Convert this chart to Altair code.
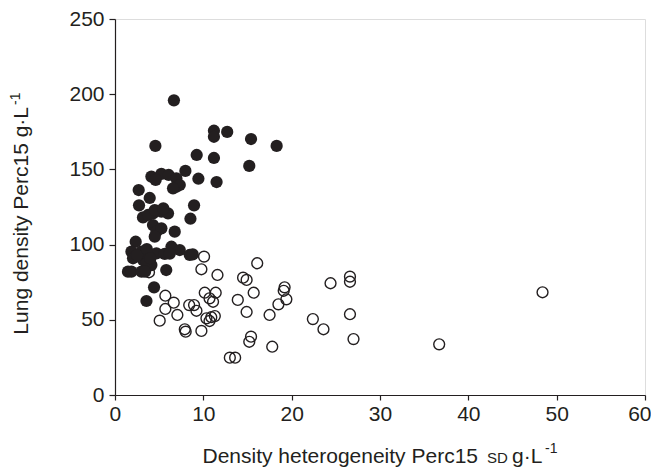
import altair as alt
import pandas as pd

# Filled circles (x: density heterogeneity SD, y: lung density Perc15)
filled_x = [6.67, 11.2, 11.2, 12.7, 15.4, 18.3, 4.57, 9.25, 11.2, 15.2,
            9.44, 11.5, 4.12, 5.25, 6.08, 6.95, 6.95, 7.97, 7.33, 6.57,
            2.68, 3.93, 2.72, 8.95, 8.54, 4.3, 5.25, 6.0, 3.17, 3.74,
            4.5, 5.47, 4.3, 4.69, 5.25, 4.5, 6.76, 2.34, 1.86, 2.99,
            2.04, 3.17, 4.12, 3.56, 4.69, 5.63, 6.39, 7.33, 8.46, 8.8,
            1.47, 1.86, 3.0, 3.4, 5.8, 4.42, 3.56, 2.5, 3.6, 4.0, 6.2, 4.6]
filled_y = [195.9, 175.7, 171.7, 174.9, 170.2, 165.6, 165.6, 159.6, 157.6, 152.3,
            143.8, 141.6, 145.2, 147.0, 146.3, 144.0, 138.5, 149.0, 139.6, 137.4,
            136.3, 131.0, 126.1, 126.1, 117.2, 120.8, 121.9, 120.8, 118.1, 119.7,
            123.0, 124.1, 113.0, 108.6, 110.8, 105.3, 108.6, 101.9, 95.3, 95.3,
            90.9, 89.8, 86.4, 87.5, 94.2, 93.8, 98.6, 96.4, 93.1, 93.5,
            82.0, 82.0, 82.0, 82.0, 83.1, 71.6, 62.5, 93.0, 97.0, 91.0, 94.0, 143.0]

# Open circles
open_x = [3.85, 10.08, 9.78, 11.6, 14.5, 14.9, 16.1, 15.7, 13.9, 14.9,
          19.2, 19.1, 19.4, 18.5, 17.5, 17.8, 15.4, 15.2, 13.0, 13.6,
          22.4, 23.6, 24.4, 26.6, 26.6, 26.6, 27.0, 36.7, 48.4, 5.7,
          6.65, 5.7, 7.06, 5.06, 8.4, 8.95, 9.22, 10.16, 11.4, 10.7,
          11.1, 10.35, 10.9, 11.3, 10.7, 7.9, 8.0, 9.78]
open_y = [81.6, 92.0, 83.6, 79.8, 78.0, 76.5, 87.6, 68.0, 63.2, 55.2,
          71.6, 69.3, 63.6, 60.3, 53.2, 32.1, 38.8, 35.4, 24.8, 24.8,
          50.5, 43.7, 74.3, 78.7, 75.3, 53.7, 37.2, 33.7, 68.3, 66.0,
          61.4, 57.2, 53.2, 49.4, 59.8, 59.8, 56.0, 68.0, 68.0, 64.3,
          62.0, 51.0, 51.7, 52.5, 49.2, 43.7, 42.1, 42.6]

x_ticks = [0, 10, 20, 30, 40, 50, 60]
y_ticks = [0, 50, 100, 150, 200, 250]

INK = "#231f20"
FONT = "Liberation Sans"
W, H = 530, 376

df_f = pd.DataFrame({"x": filled_x, "y": filled_y})
df_o = pd.DataFrame({"x": open_x, "y": open_y})

xs = alt.Scale(domain=[0, 60], nice=False, zero=False)
ys = alt.Scale(domain=[0, 250], nice=False, zero=False)

x_axis = alt.Axis(values=x_ticks, title=None, grid=False, tickSize=5, labelPadding=3,
                  labelFontSize=21, labelFont=FONT, labelColor=INK, domainColor=INK,
                  tickColor=INK, labelFlush=True, labelFlushOffset=6, labelOverlap=False,
                  domainWidth=1.2, tickWidth=1.2)
y_axis = alt.Axis(values=y_ticks, title=None, grid=False, tickSize=6, labelPadding=5,
                  labelFontSize=21, labelFont=FONT, labelColor=INK, domainColor=INK,
                  tickColor=INK, labelFlush=False, labelOverlap=False,
                  domainWidth=1.2, tickWidth=1.2)

open_pts = alt.Chart(df_o).mark_point(shape="circle", filled=False, size=118,
                                      stroke=INK, strokeWidth=1.4, opacity=1).encode(
    x=alt.X("x:Q", scale=xs, axis=x_axis),
    y=alt.Y("y:Q", scale=ys, axis=y_axis),
)
filled_pts = alt.Chart(df_f).mark_circle(size=150, color=INK, opacity=1).encode(
    x=alt.X("x:Q", scale=xs),
    y=alt.Y("y:Q", scale=ys),
)


def txt(text, x, y, size, align="left", angle=0):
    return alt.Chart(pd.DataFrame({"t": [text]})).mark_text(
        align=align, baseline="alphabetic", angle=angle, fontSize=size,
        font=FONT, color=INK).encode(x=alt.value(x), y=alt.value(y), text="t:N")


# plot origin is at page (115, 19)
titles = [
    txt("Density heterogeneity Perc15", 363, 444, 21, align="right"),
    txt("SD", 372, 444, 15),
    txt("g·L", 397, 444, 21),
    txt("-1", 430, 434, 14),
    txt("Lung density Perc15 g·L", -87, 88, 21, align="right", angle=270),
    txt("-1", -95, 86, 14, align="left", angle=270),
]

chart = alt.layer(open_pts, filled_pts, *titles).properties(
    width=W, height=H,
    padding={"left": 107, "top": 11, "right": 6, "bottom": 72},
    autosize=alt.AutoSizeParams(type="none"),
).configure_view(stroke=None).configure(background="white")

chart.save("out.html", embed_options={"renderer": "svg", "actions": False})
